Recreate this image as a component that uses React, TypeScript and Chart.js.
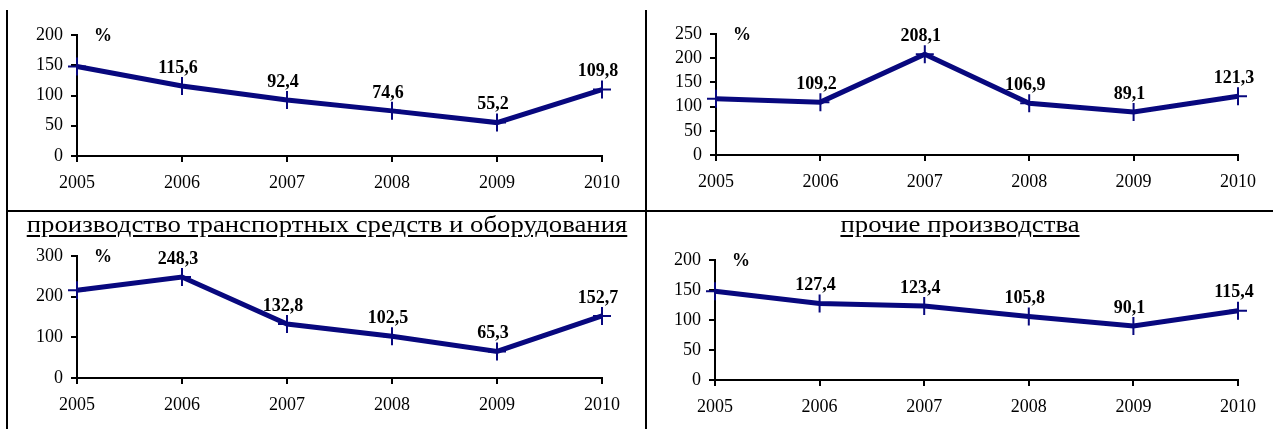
import React, { useEffect, useLayoutEffect, useRef, useState } from "react";
import { Chart, registerables } from "chart.js";

Chart.register(...registerables);

// ---------- data ----------
const years = ["2005", "2006", "2007", "2008", "2009", "2010"];
const valuesTopLeft = [148, 115.6, 92.4, 74.6, 55.2, 109.8];
const valuesTopRight = [116, 109.2, 208.1, 106.9, 89.1, 121.3];
const valuesTransport = [216, 248.3, 132.8, 102.5, 65.3, 152.7];
const valuesOther = [148, 127.4, 123.4, 105.8, 90.1, 115.4];

const axisMaxTopLeft = 200;
const axisStepTopLeft = 50;
const axisMaxTopRight = 250;
const axisStepTopRight = 50;
const axisMaxTransport = 300;
const axisStepTransport = 100;
const axisMaxOther = 200;
const axisStepOther = 50;

const titleTransport = "производство транспортных средств и оборудования";
const titleOther = "прочие производства";
const unitLabel = "%";

// ---------- styles ----------
const SERIF = '"Liberation Serif", "Times New Roman", serif';
const NAVY = "#08087e";

const labelPlugin = {
  id: "valueLabels",
  afterDatasetsDraw(chart: any) {
    const ctx = chart.ctx;
    const meta = chart.getDatasetMeta(0);
    const data = chart.data.datasets[0].data as number[];
    ctx.save();
    ctx.fillStyle = "#000";
    ctx.textAlign = "center";
    ctx.textBaseline = "middle";
    ctx.font = `bold 18px ${SERIF}`;
    meta.data.forEach((pt: any, i: number) => {
      if (i === 0) return;
      const txt = String(data[i]).replace(".", ",");
      ctx.fillText(txt, pt.x - 4, pt.y - 18);
    });
    ctx.font = `bold 18px ${SERIF}`;
    ctx.fillText(unitLabel, chart.chartArea.left + 26, chart.chartArea.top + 1);
    ctx.restore();
  },
};

type PanelProps = {
  values: number[];
  yMax: number;
  yStep: number;
  left: number;
  top: number;
  width: number;
  height: number;
  yAxisWidth: number;
  padTop: number;
  padRight: number;
  xAxisHeight: number;
};

function Panel(p: PanelProps) {
  const ref = useRef<HTMLCanvasElement | null>(null);
  useEffect(() => {
    if (!ref.current) return;
    const chart = new Chart(ref.current, {
      type: "line",
      data: {
        labels: years,
        datasets: [
          {
            data: p.values,
            borderColor: NAVY,
            backgroundColor: NAVY,
            borderWidth: 5,
            tension: 0,
            pointStyle: "cross",
            pointRadius: 9,
            pointBorderWidth: 2,
            pointBorderColor: NAVY,
            pointBackgroundColor: NAVY,
            clip: false as any,
          },
        ],
      },
      options: {
        animation: false,
        responsive: false,
        events: [],
        layout: { padding: { left: 0, top: p.padTop, right: p.padRight, bottom: 0 } },
        plugins: { legend: { display: false }, tooltip: { enabled: false }, title: { display: false } },
        scales: {
          x: {
            type: "category",
            offset: false,
            grid: {
              display: true,
              drawOnChartArea: false,
              drawTicks: true,
              tickLength: 6,
              color: "#000",
              lineWidth: 2,
            },
            border: { display: true, color: "#000", width: 2 },
            ticks: {
              color: "#000",
              font: { family: SERIF, size: 18 },
              padding: 10,
              maxRotation: 0,
              autoSkip: false,
            },
            afterFit: (s: any) => {
              s.height = p.xAxisHeight;
            },
          },
          y: {
            min: 0,
            max: p.yMax,
            grid: {
              display: true,
              drawOnChartArea: false,
              drawTicks: true,
              tickLength: 6,
              color: "#000",
              lineWidth: 2,
            },
            border: { display: true, color: "#000", width: 2 },
            ticks: {
              stepSize: p.yStep,
              autoSkip: false,
              color: "#000",
              font: { family: SERIF, size: 18, lineHeight: 1 },
              padding: 8,
            },
            afterFit: (s: any) => {
              s.width = p.yAxisWidth;
            },
          },
        },
      },
      plugins: [labelPlugin],
    } as any);
    return () => chart.destroy();
  }, []);
  return (
    <canvas
      ref={ref}
      width={p.width}
      height={p.height}
      style={{ position: "absolute", left: p.left, top: p.top, width: p.width, height: p.height }}
    />
  );
}

export default function App() {
  const titleRef = useRef<HTMLSpanElement | null>(null);
  const [sx, setSx] = useState(1);
  useLayoutEffect(() => {
    if (titleRef.current) {
      const w = titleRef.current.offsetWidth;
      if (w > 0) setSx(601 / w);
    }
  }, []);

  const titleStyle = (center: number): React.CSSProperties => ({
    position: "absolute",
    left: center,
    top: 212,
    fontFamily: SERIF,
    fontSize: 24,
    lineHeight: "24px",
    whiteSpace: "nowrap",
    textDecoration: "underline",
    textDecorationThickness: "1.5px",
    textUnderlineOffset: "3px",
    color: "#000",
    transform: `translateX(-50%) scaleX(${sx})`,
  });

  return (
    <div
      style={{
        position: "absolute",
        left: 0,
        top: 0,
        width: 1273,
        height: 429,
        background: "#fff",
        overflow: "hidden",
      }}
    >
      {/* table rules */}
      <div style={{ position: "absolute", left: 6, top: 10, width: 2, height: 419, background: "#000" }} />
      <div style={{ position: "absolute", left: 645, top: 10, width: 2, height: 419, background: "#000" }} />
      <div style={{ position: "absolute", left: 6, top: 210, width: 1267, height: 2, background: "#000" }} />

      <Panel values={valuesTopLeft} yMax={axisMaxTopLeft} yStep={axisStepTopLeft}
        left={8} top={0} width={637} height={210}
        yAxisWidth={69} padTop={35} padRight={43} xAxisHeight={54} />
      <Panel values={valuesTopRight} yMax={axisMaxTopRight} yStep={axisStepTopRight}
        left={647} top={0} width={626} height={210}
        yAxisWidth={69} padTop={34} padRight={35} xAxisHeight={55} />
      <Panel values={valuesTransport} yMax={axisMaxTransport} yStep={axisStepTransport}
        left={8} top={212} width={637} height={217}
        yAxisWidth={69} padTop={44} padRight={43} xAxisHeight={51} />
      <Panel values={valuesOther} yMax={axisMaxOther} yStep={axisStepOther}
        left={647} top={212} width={626} height={217}
        yAxisWidth={68} padTop={48} padRight={35} xAxisHeight={49} />

      <span ref={titleRef} style={titleStyle(327)}>{titleTransport}</span>
      <span style={titleStyle(960)}>{titleOther}</span>
    </div>
  );
}
